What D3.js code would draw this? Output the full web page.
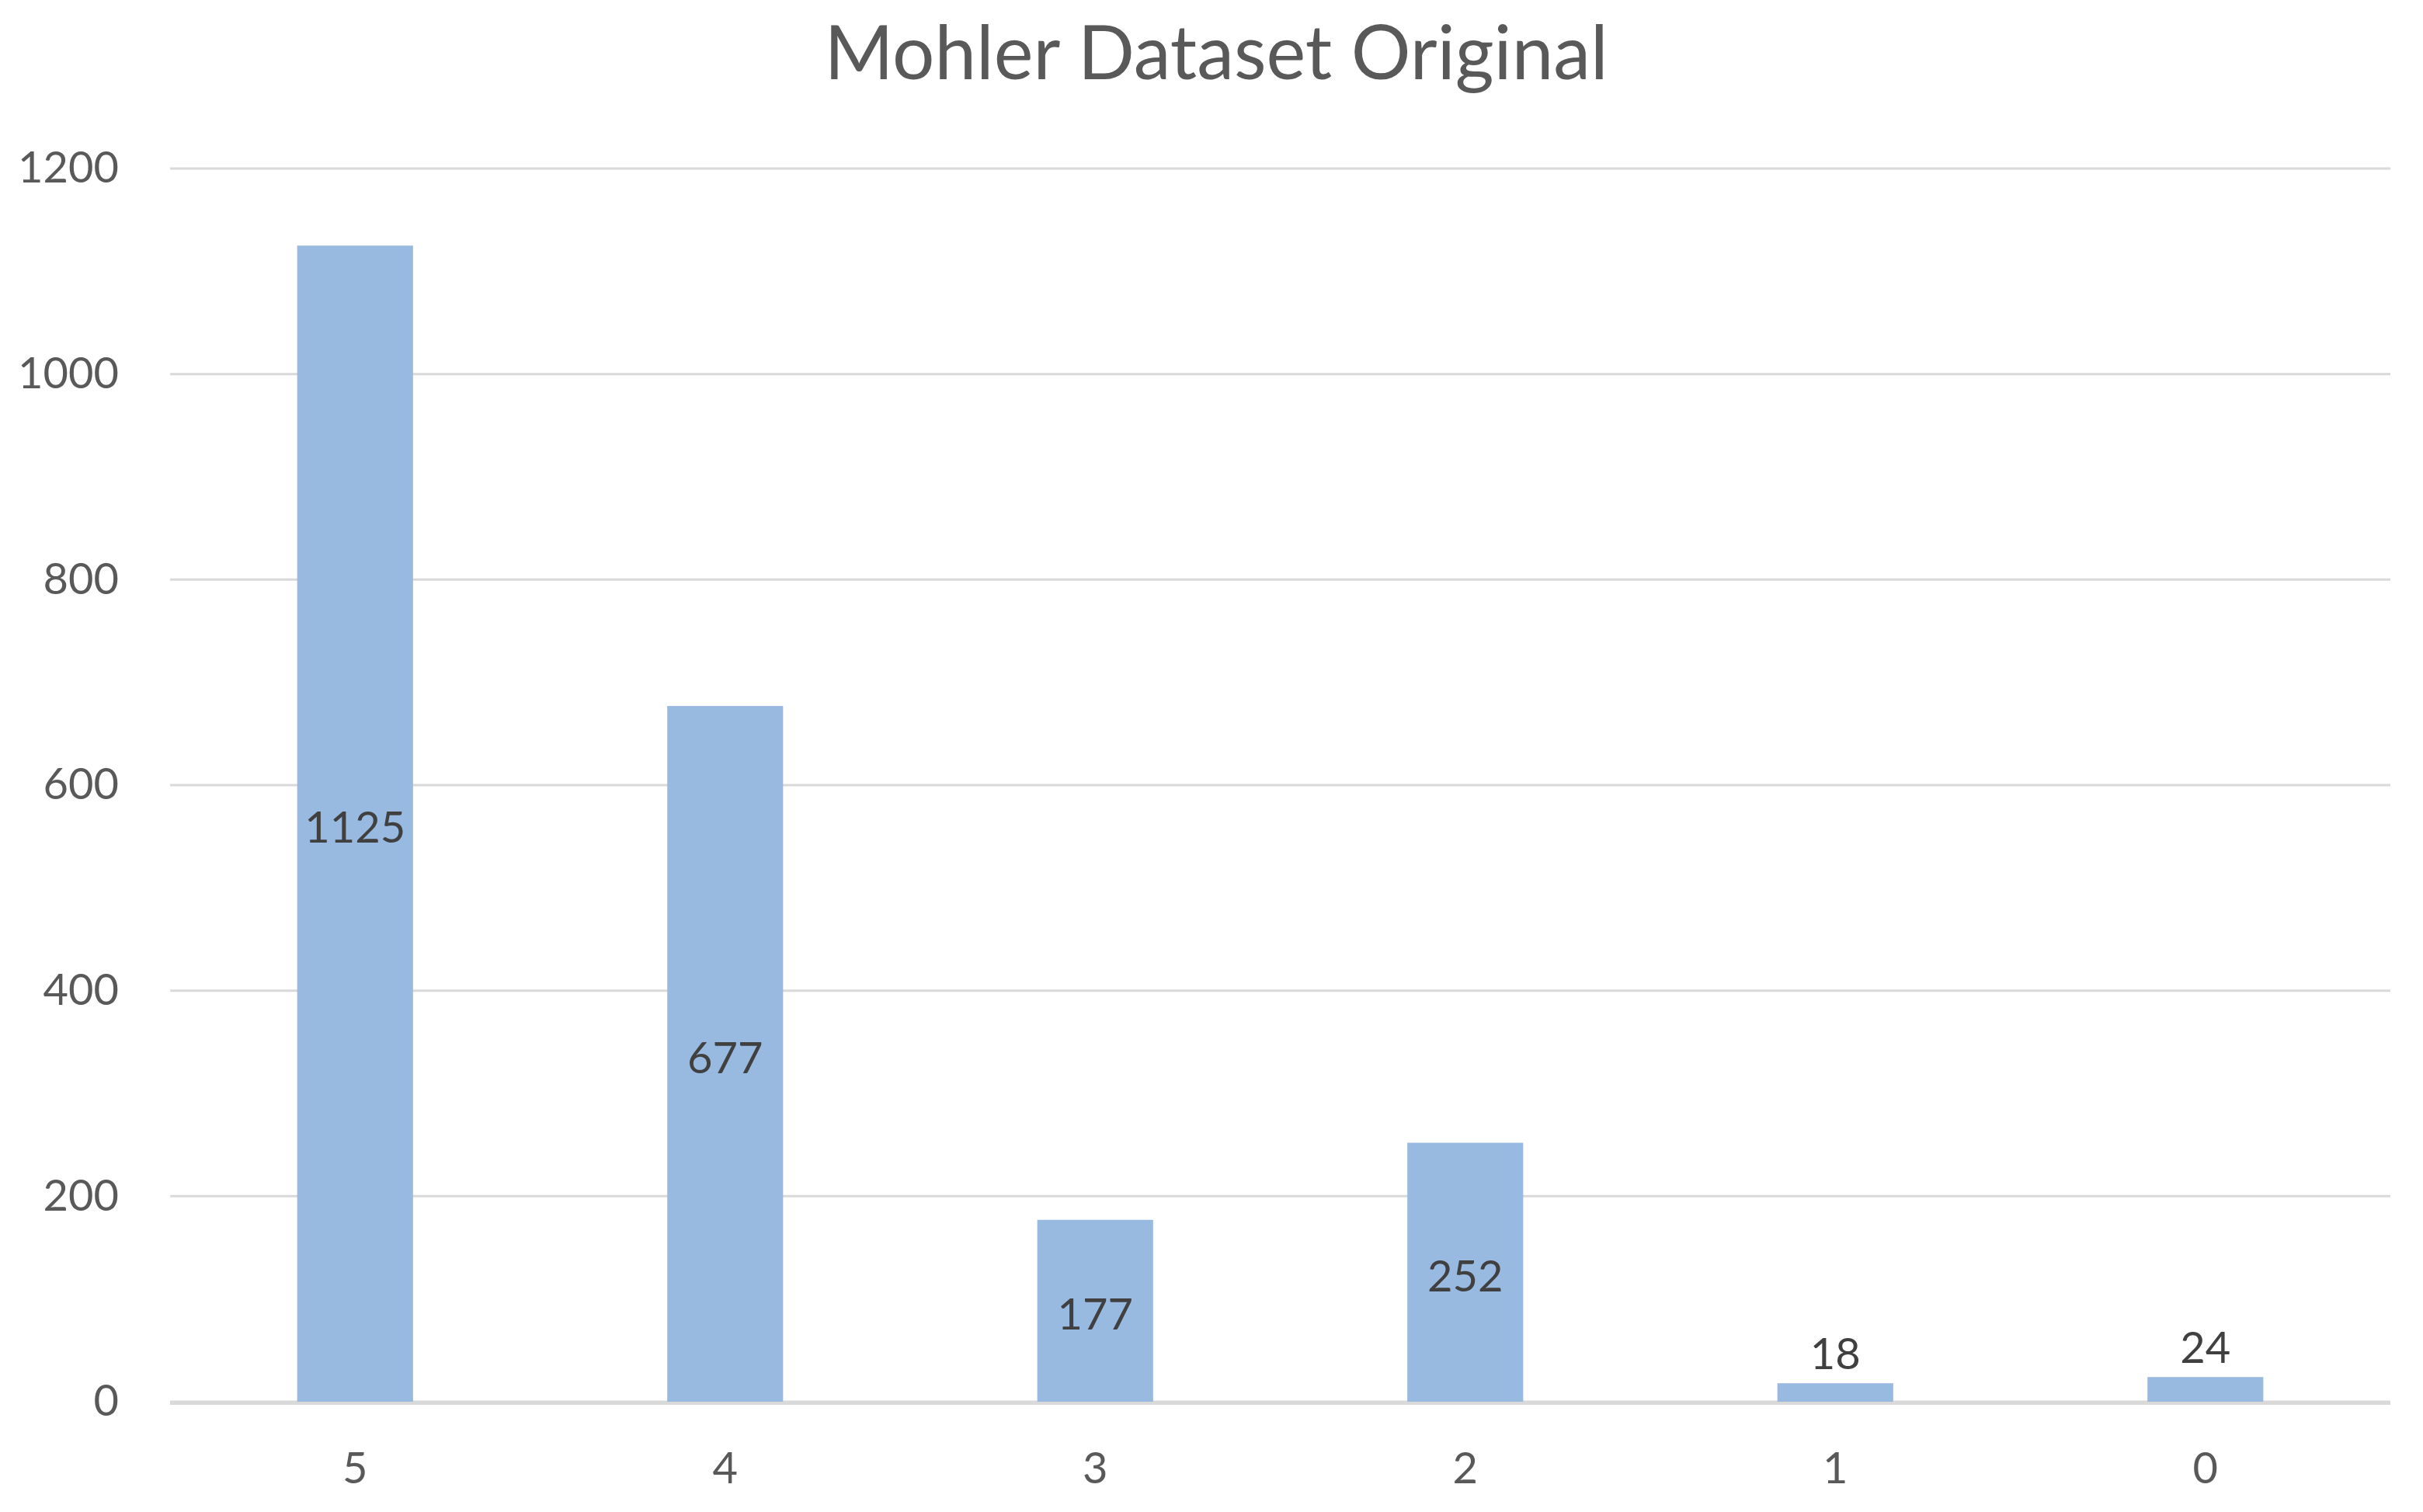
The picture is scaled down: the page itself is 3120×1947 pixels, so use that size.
<!DOCTYPE html>
<html>
<head>
<meta charset="utf-8">
<script src="https://cdn.jsdelivr.net/npm/d3@7"></script>
<style>
  body { margin: 0; background: #fff; }
  svg text { font-family: Lato, "Open Sans", sans-serif; }
</style>
</head>
<body>
<svg id="chart" width="3120" height="1947"></svg>
<script>
// chart values
var categories = ["5", "4", "3", "2", "1", "0"];
var counts = [1125, 677, 177, 252, 18, 24];
var yTicks = [0, 200, 400, 600, 800, 1000, 1200];
var title = "Mohler Dataset Original";

var svg = d3.select("#chart");
var plotLeft = 219, plotRight = 3078, plotTop = 217, plotBottom = 1805;

var x = d3.scaleBand().domain(categories).range([plotLeft, plotRight]).paddingInner(0.687).paddingOuter(0.3435);
var y = d3.scaleLinear().domain([0, 1200]).range([plotBottom, plotTop]);

// gridlines
svg.append("g").selectAll("line").data(yTicks).enter().append("line")
    .attr("x1", plotLeft).attr("x2", plotRight)
    .attr("y1", function(d) { return y(d); })
    .attr("y2", function(d) { return y(d); })
    .attr("stroke", "#d9d9d9")
    .attr("stroke-width", 3);

// y axis labels
var yAxis = d3.axisLeft(y).tickValues(yTicks).tickSize(0).tickPadding(0).tickFormat(d3.format("d"));
var ya = svg.append("g").attr("transform", "translate(153,0)").call(yAxis);
ya.select(".domain").remove();
ya.selectAll("text").attr("font-size", 56).attr("fill", "#595959")
    .attr("font-family", "Lato, 'Open Sans', sans-serif");

// bars
svg.append("g").selectAll("rect").data(counts).enter().append("rect")
    .attr("x", function(d, i) { return x(categories[i]); })
    .attr("y", function(d) { return y(d); })
    .attr("width", x.bandwidth())
    .attr("height", function(d) { return y(0) - y(d); })
    .attr("fill", "#98b9e0");

// zero line on top of bars
svg.append("line").attr("x1", plotLeft).attr("x2", plotRight)
    .attr("y1", y(0) + 2).attr("y2", y(0) + 2)
    .attr("stroke", "#d9d9d9").attr("stroke-width", 4);

// x axis labels
var xAxis = d3.axisBottom(x).tickSize(0).tickPadding(0);
var xa = svg.append("g").attr("transform", "translate(0,1870)").call(xAxis);
xa.select(".domain").remove();
xa.selectAll("text").attr("font-size", 56).attr("fill", "#595959")
    .attr("font-family", "Lato, 'Open Sans', sans-serif");

// data labels, centred in bar, above it when bar too short
svg.append("g").selectAll("text").data(counts).enter().append("text")
    .attr("x", function(d, i) { return x(categories[i]) + x.bandwidth() / 2; })
    .attr("y", function(d) {
        var h = y(0) - y(d);
        if (h < 80) return y(d) - 38;
        return (y(d) + y(0)) / 2 + 5;
    })
    .attr("dy", "0.35em")
    .attr("text-anchor", "middle")
    .attr("font-size", 56)
    .attr("fill", "#404040")
    .text(function(d) { return d; });

// title
svg.append("text")
    .attr("x", 1566).attr("y", 102)
    .attr("text-anchor", "middle")
    .attr("font-size", 96)
    .attr("fill", "#595959")
    .text(title);
</script>
</body>
</html>
